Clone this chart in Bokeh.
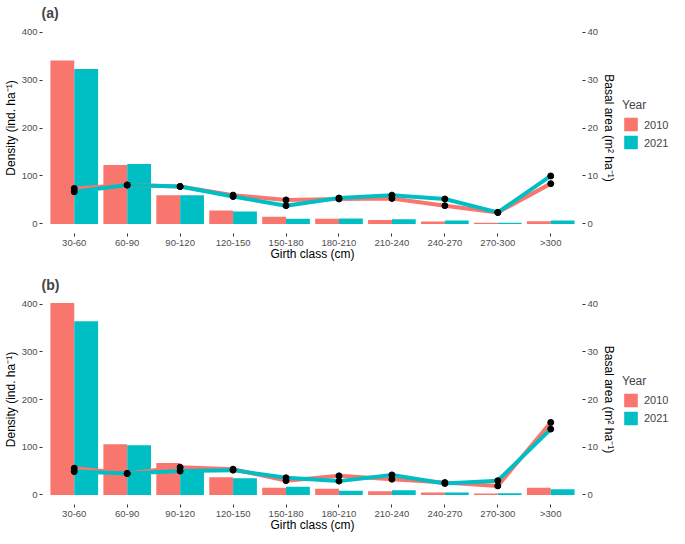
from bokeh.plotting import figure
from bokeh.models import (Range1d, FactorRange, LinearAxis, FixedTicker, Legend,
                          LegendItem, ColumnDataSource)
from bokeh.transform import dodge
from bokeh.layouts import column, row
from bokeh.embed import file_html
from bokeh.resources import INLINE

# ---------------- data ----------------
cats = ["30-60", "60-90", "90-120", "120-150", "150-180", "180-210",
        "210-240", "240-270", "270-300", ">300"]
years = ["2010", "2021"]

# panel (a)
dens_a_2010 = [341, 123, 60, 28, 15, 11, 8, 5, 2.5, 5.5]
dens_a_2021 = [323, 125, 60, 26, 11, 11.5, 9.5, 7, 2.5, 7]
ba_a_2010 = [7.4, 8.1, 7.8, 6.0, 5.0, 5.2, 5.3, 3.8, 2.4, 8.4]
ba_a_2021 = [6.7, 8.1, 7.8, 5.7, 3.8, 5.4, 6.0, 5.2, 2.4, 10.0]

# panel (b)
dens_b_2010 = [402, 106, 67, 37, 15, 13, 8, 5, 3, 15]
dens_b_2021 = [364, 104, 52, 35, 17, 9, 10, 5, 3.5, 12]
ba_b_2010 = [5.6, 4.5, 5.8, 5.4, 3.0, 4.0, 3.3, 2.6, 1.9, 15.2]
ba_b_2021 = [4.9, 4.5, 5.0, 5.2, 3.6, 2.9, 4.2, 2.4, 3.0, 13.8]

left_ticks = [0, 100, 200, 300, 400]
right_ticks = [0, 10, 20, 30, 40]

FONT = "Liberation Sans"
RED = "#F8766D"
TEAL = "#00BFC4"
COLORS = [RED, TEAL]
TICK_TXT = "#4D4D4D"


def style_axis(ax, label_standoff=2, title_standoff=1):
    ax.axis_line_color = None
    ax.major_tick_line_color = "#333333"
    ax.major_tick_out = 3
    ax.major_tick_in = 0
    ax.minor_tick_line_color = None
    ax.major_label_text_font = FONT
    ax.major_label_text_font_size = "9.5px"
    ax.major_label_text_color = TICK_TXT
    ax.major_label_standoff = label_standoff
    ax.axis_label_text_font = FONT
    ax.axis_label_text_font_size = "12px"
    ax.axis_label_text_font_style = "normal"
    ax.axis_label_text_color = "black"
    ax.axis_label_standoff = title_standoff


def make_panel(label, d10, d21, b10, b21, fh, top, bottom):
    src = ColumnDataSource(dict(cat=cats, d10=d10, d21=d21, b10=b10, b21=b21))
    p = figure(x_range=FactorRange(factors=cats, range_padding=0.1,
                                   range_padding_units="absolute"),
               y_range=Range1d(-20, 420), frame_width=540, frame_height=fh,
               output_backend="svg", toolbar_location=None,
               min_border_left=37, min_border_right=40,
               min_border_top=top, min_border_bottom=bottom, title=label)
    p.extra_y_ranges = {"ba": Range1d(-2, 42)}
    p.outline_line_color = None
    p.xgrid.visible = False
    p.ygrid.visible = False
    p.background_fill_color = "white"

    p.title.text_font = FONT
    p.title.text_font_size = "14px"
    p.title.text_font_style = "bold"
    p.title.standoff = 4
    p.title.offset = -1

    p.vbar(x=dodge("cat", -0.225, range=p.x_range), top="d10", bottom=0,
           width=0.45, source=src, fill_color=RED, line_color=None)
    p.vbar(x=dodge("cat", 0.225, range=p.x_range), top="d21", bottom=0,
           width=0.45, source=src, fill_color=TEAL, line_color=None)

    p.line("cat", "b10", source=src, y_range_name="ba", line_color=RED, line_width=4)
    p.line("cat", "b21", source=src, y_range_name="ba", line_color=TEAL, line_width=4)
    p.scatter("cat", "b10", source=src, y_range_name="ba", size=6, color="black")
    p.scatter("cat", "b21", source=src, y_range_name="ba", size=6, color="black")

    p.yaxis.ticker = FixedTicker(ticks=left_ticks)
    p.yaxis.axis_label = "Density (ind. ha\u207b\u00b9)"
    p.xaxis.axis_label = "Girth class (cm)"
    style_axis(p.xaxis[0], label_standoff=0, title_standoff=-4)
    style_axis(p.yaxis[0])

    rax = LinearAxis(y_range_name="ba", ticker=FixedTicker(ticks=right_ticks),
                     axis_label="Basal area (m\u00b2 ha\u207b\u00b9)")
    style_axis(rax)
    p.add_layout(rax, "right")
    return p


def make_legend(height):
    # small companion figure; the row aligns its frame with the panel's frame
    lf = figure(width=52, height=height, x_range=Range1d(0, 1), y_range=Range1d(0, 1),
                x_axis_location=None, y_axis_location=None, min_border=0,
                output_backend="svg", toolbar_location=None)
    lf.outline_line_color = None
    lf.xgrid.visible = False
    lf.ygrid.visible = False
    items = []
    for yr, col in zip(years, COLORS):
        # zero-size placeholder renderer: only supplies the key's fill colour
        key_src = ColumnDataSource(dict(x=[0], top=[0]))
        r = lf.vbar(x="x", top="top", bottom=0, width=0, source=key_src,
                    fill_color=col, line_color=None)
        items.append(LegendItem(label=yr, renderers=[r]))
    leg = Legend(items=items, title="Year", location="center_left")
    leg.title_text_font = FONT
    leg.title_text_font_size = "12px"
    leg.title_text_font_style = "normal"
    leg.title_standoff = 4
    leg.label_text_font = FONT
    leg.label_text_font_size = "11px"
    leg.glyph_width = 17
    leg.glyph_height = 17
    leg.label_height = 17
    leg.label_standoff = 5
    leg.spacing = 1
    leg.padding = 0
    leg.margin = 0
    leg.border_line_color = None
    leg.background_fill_alpha = 0
    lf.add_layout(leg, "center")
    return lf


pa = make_panel("(a)", dens_a_2010, dens_a_2021, ba_a_2010, ba_a_2021,
                fh=211, top=14, bottom=28)
pb = make_panel("(b)", dens_b_2010, dens_b_2021, ba_b_2010, ba_b_2021,
                fh=210, top=31, bottom=28)
la = make_legend(256)
lb = make_legend(272)

layout = column(row(pa, la, spacing=0), row(pb, lb, spacing=0), spacing=0)
open("out.html", "w").write(file_html(layout, INLINE))
